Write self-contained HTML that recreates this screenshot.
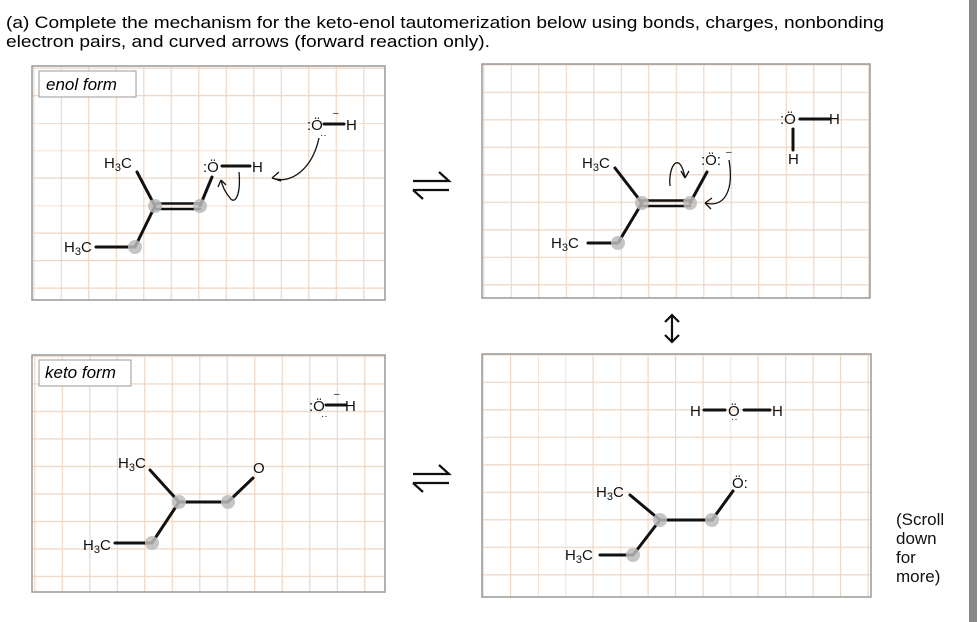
<!DOCTYPE html>
<html><head><meta charset="utf-8"><style>
body{margin:0;background:#fff;width:977px;height:622px;overflow:hidden}
svg{display:block;font-family:"Liberation Sans",Arial,sans-serif}
</style></head><body>
<svg width="977" height="622" viewBox="0 0 977 622">
<defs>
<pattern id="g1" patternUnits="userSpaceOnUse" x="60.7" y="95" width="27.5" height="27.5"><path d="M0.6 0V27.5M0 0.6H27.5" stroke="#efd6c2" stroke-width="1.2" fill="none"/></pattern>
<pattern id="g2" patternUnits="userSpaceOnUse" x="510.7" y="91.7" width="27.5" height="27.5"><path d="M0.6 0V27.5M0 0.6H27.5" stroke="#efd6c2" stroke-width="1.2" fill="none"/></pattern>
<pattern id="g3" patternUnits="userSpaceOnUse" x="61.7" y="383.3" width="27.5" height="27.5"><path d="M0.6 0V27.5M0 0.6H27.5" stroke="#efd6c2" stroke-width="1.2" fill="none"/></pattern>
<pattern id="g4" patternUnits="userSpaceOnUse" x="510" y="381.7" width="27.5" height="27.5"><path d="M0.6 0V27.5M0 0.6H27.5" stroke="#efd6c2" stroke-width="1.2" fill="none"/></pattern>
</defs>
<text x="6" y="28" font-size="17" textLength="878" lengthAdjust="spacingAndGlyphs">(a) Complete the mechanism for the keto-enol tautomerization below using bonds, charges, nonbonding</text>
<text x="6" y="47" font-size="17" textLength="484" lengthAdjust="spacingAndGlyphs">electron pairs, and curved arrows (forward reaction only).</text>

<rect x="32" y="66" width="353" height="234" fill="url(#g1)" stroke="#999" stroke-width="1.5"/>
<rect x="482" y="64" width="388" height="234" fill="url(#g2)" stroke="#999" stroke-width="1.5"/>
<rect x="32" y="355" width="353" height="237" fill="url(#g3)" stroke="#999" stroke-width="1.5"/>
<rect x="482" y="354" width="389" height="243" fill="url(#g4)" stroke="#999" stroke-width="1.5"/>

<rect x="39" y="71" width="97" height="26" fill="#fff" stroke="#999"/>
<text x="46" y="90" font-size="17" font-style="italic">enol form</text>
<rect x="39" y="360" width="92" height="26" fill="#fff" stroke="#999"/>
<text x="45" y="378" font-size="17" font-style="italic">keto form</text>

<g stroke="#111" stroke-width="3" fill="none" stroke-linecap="round">
<path d="M137 172L155 206L135 247H96M200 206L212 177M222 166H250M324 124H344"/>
<path d="M155 203.5H200M155 209H200" stroke-width="2.6"/>
<path d="M615 168L642 203L618 243H588M690 203L707 172M800 119H830M793 129V150"/>
<path d="M642 200.5H690M642 206H690" stroke-width="2.6"/>
<path d="M150 470L179 502L152 543H115M179 502H228L253 478M326 405H346"/>
<path d="M660 520L633 555H600M630 495L660 520H712L733 491M704 410H725M744 410H770"/>
</g>
<g fill="#bbb" opacity="0.85">
<circle cx="155" cy="206" r="7"/><circle cx="200" cy="206" r="7"/><circle cx="135" cy="247" r="7"/>
<circle cx="642" cy="203" r="7"/><circle cx="690" cy="203" r="7"/><circle cx="618" cy="243" r="7"/>
<circle cx="179" cy="502" r="7"/><circle cx="228" cy="502" r="7"/><circle cx="152" cy="543" r="7"/>
<circle cx="660" cy="520" r="7"/><circle cx="712" cy="520" r="7"/><circle cx="633" cy="555" r="7"/>
</g>
<g font-size="15" fill="#111">
<text x="104" y="168">H<tspan font-size="11" dy="3">3</tspan><tspan dy="-3">C</tspan></text>
<text x="64" y="252">H<tspan font-size="11" dy="3">3</tspan><tspan dy="-3">C</tspan></text>
<text x="203" y="172">:Ö</text><text x="252" y="172">H</text>
<text x="307" y="130">:Ö</text><text x="346" y="130">H</text>
<text x="582" y="168">H<tspan font-size="11" dy="3">3</tspan><tspan dy="-3">C</tspan></text>
<text x="551" y="248">H<tspan font-size="11" dy="3">3</tspan><tspan dy="-3">C</tspan></text>
<text x="701" y="165">:Ö:</text>
<text x="780" y="124">:Ö</text><text x="829" y="124">H</text><text x="788" y="164">H</text>
<text x="118" y="468">H<tspan font-size="11" dy="3">3</tspan><tspan dy="-3">C</tspan></text>
<text x="83" y="550">H<tspan font-size="11" dy="3">3</tspan><tspan dy="-3">C</tspan></text>
<text x="253" y="473">O</text>
<text x="309" y="411">:Ö</text><text x="345" y="411">H</text>
<text x="596" y="497">H<tspan font-size="11" dy="3">3</tspan><tspan dy="-3">C</tspan></text>
<text x="565" y="560">H<tspan font-size="11" dy="3">3</tspan><tspan dy="-3">C</tspan></text>
<text x="732" y="488">Ö:</text>
<text x="690" y="416">H</text><text x="728" y="416">Ö</text><text x="772" y="416">H</text>
</g>
<g font-size="10" fill="#111">
<text x="333" y="116">–</text><text x="334" y="397">–</text><text x="726" y="155">–</text>
</g>
<text x="320" y="138" font-size="10" fill="#111">··</text>
<text x="321" y="419" font-size="10" fill="#111">··</text>
<text x="731" y="422" font-size="10" fill="#111">··</text>
<g stroke="#111" stroke-width="1.3" fill="none">
<path d="M319 138C312 170 290 185 272 178M272 178L279 172M272 178L281 181"/>
<path d="M239 172C241 195 235 205 230 198C225 192 222 185 221 180M221 180L218 187M221 180L226 185"/>
<path d="M670 186C668 165 680 150 685 178M685 178L681 171M685 178L689 171"/>
<path d="M729 160C734 190 725 208 705 203M705 203L712 198M705 203L711 209"/>
</g>
<g stroke="#111" stroke-width="2.2" fill="none">
<path d="M413 181H449L439 172M413 190H449M413 190L423 199"/>
<path d="M413 474H449L439 465M413 483H449M413 483L423 492"/>
<path d="M672 315V342M665 322L672 315L679 322M665 335L672 342L679 335"/>
</g>
<g font-size="17" fill="#111">
<text x="896" y="525">(Scroll</text><text x="896" y="544">down</text><text x="896" y="563">for</text><text x="896" y="582">more)</text>
</g>
<rect x="969" y="0" width="8" height="622" fill="#888"/>
</svg>
</body></html>
